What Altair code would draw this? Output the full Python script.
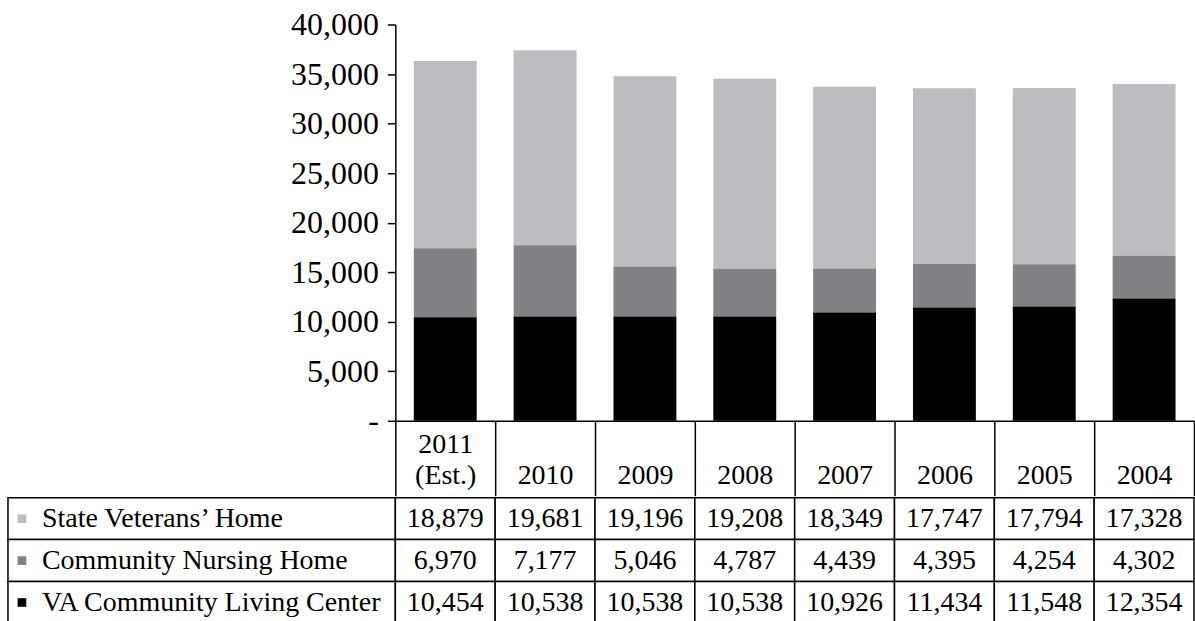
import altair as alt
import pandas as pd

years = ["2011 (Est.)", "2010", "2009", "2008", "2007", "2006", "2005", "2004"]
series = ["State Veterans’ Home", "Community Nursing Home", "VA Community Living Center"]
state = [18879, 19681, 19196, 19208, 18349, 17747, 17794, 17328]
community = [6970, 7177, 5046, 4787, 4439, 4395, 4254, 4302]
va = [10454, 10538, 10538, 10538, 10926, 11434, 11548, 12354]
colors = ["#bcbdc0", "#808184", "#000000"]
stack_order = [3, 2, 1]

rows = []
for i, yr in enumerate(years):
    for s, vals, o in zip(series, [state, community, va], stack_order):
        rows.append({"year": yr, "series": s, "value": vals[i], "order": o})
df = pd.DataFrame(rows)
ldf = pd.DataFrame({"series": series})

FONT = "Liberation Serif"
color_scale = alt.Scale(domain=series, range=colors)
band0 = alt.Scale(paddingInner=0, paddingOuter=0)

bars = alt.Chart(df).mark_bar(width={"band": 0.63}).encode(
    x=alt.X("year:N", sort=years, scale=band0,
            axis=alt.Axis(title=None,
                          labelExpr="length(split(datum.label, ' ')) > 1 ? split(datum.label, ' ') : ['', datum.label]",
                          tickBand="extent", tickSize=75, tickWidth=1.5,
                          tickColor="black", domainColor="black", domainWidth=1.5,
                          labelAngle=0, labelBaseline="alphabetic", labelPadding=-43,
                          labelFont=FONT, labelFontSize=28, labelColor="black",
                          labelLineHeight=31)),
    y=alt.Y("value:Q", stack="zero",
            scale=alt.Scale(domain=[0, 40000], nice=False),
            axis=alt.Axis(title=None, values=list(range(0, 40001, 5000)),
                          labelExpr="datum.value == 0 ? '-' : format(datum.value, ',')",
                          grid=False, tickSize=8, tickWidth=1.5, tickColor="black",
                          domainColor="black", domainWidth=1.5, labelPadding=9,
                          labelFont=FONT, labelFontSize=32, labelColor="black",
                          minExtent=388)),
    color=alt.Color("series:N", scale=color_scale, legend=None),
    order=alt.Order("order:Q", sort="ascending"),
).properties(width=800, height=397)

cells = alt.Chart(df).mark_rect(fill="white", stroke="black", strokeWidth=1.5).encode(
    x=alt.X("year:N", sort=years, scale=band0, axis=None),
    y=alt.Y("series:N", sort=series, scale=band0, axis=None),
)
texts = alt.Chart(df).mark_text(font=FONT, fontSize=28, color="black").encode(
    x=alt.X("year:N", sort=years, scale=band0, axis=None),
    y=alt.Y("series:N", sort=series, scale=band0, axis=None),
    text=alt.Text("value:Q", format=","),
)
lcells = alt.Chart(ldf).mark_rect(fill="white", stroke="black", strokeWidth=1.5).encode(
    x=alt.value(-388), x2=alt.value(0),
    y=alt.Y("series:N", sort=series, scale=band0, axis=None),
)
lsq = alt.Chart(ldf).mark_square(size=75, opacity=1).encode(
    x=alt.value(-374),
    y=alt.Y("series:N", sort=series, scale=band0, axis=None),
    color=alt.Color("series:N", scale=color_scale, legend=None),
)
ltxt = alt.Chart(ldf).mark_text(align="left", font=FONT, fontSize=28, color="black").encode(
    x=alt.value(-354),
    y=alt.Y("series:N", sort=series, scale=band0, axis=None),
    text="series:N",
)
table = (lcells + cells + texts + lsq + ltxt).properties(width=800, height=126)

chart = alt.vconcat(bars, table, spacing=0).properties(
    padding={"left": 7, "top": 8, "right": 0, "bottom": 0}
).configure_view(stroke=None)

chart.save("out.html", embed_options={"renderer": "svg", "actions": False})
